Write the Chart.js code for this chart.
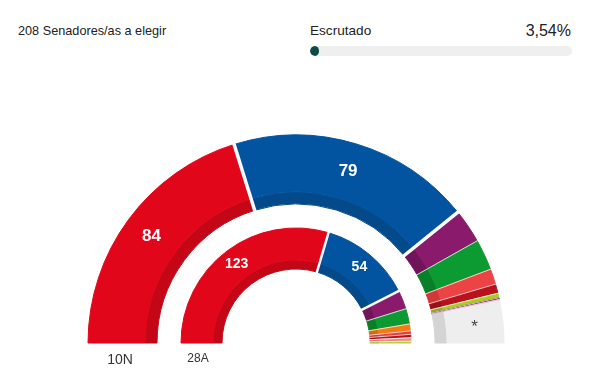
<!DOCTYPE html>
<html>
<head>
<meta charset="utf-8">
<script src="https://cdn.jsdelivr.net/npm/chart.js@4"></script>
<style>
html, body { margin: 0; padding: 0; background: #fff; overflow: hidden; width: 590px; height: 376px; }
body { font-family: "Liberation Sans", Arial, sans-serif; color: #222; line-height: 1; position: relative; }
#title { position: absolute; left: 18px; top: 25px; font-size: 12.7px; }
#escLabel { position: absolute; left: 310px; top: 24px; font-size: 13.6px; }
#escValue { position: absolute; right: 19px; top: 23px; font-size: 16px; }
#bar { position: absolute; left: 310px; top: 46px; width: 262px; height: 10px; border-radius: 5px; background: #efefef; overflow: hidden; }
#fill { height: 100%; background: #0c4b4a; border-radius: 5px; min-width: 8px; }
#chartBox { position: absolute; left: 0; top: 100px; width: 592px; height: 278px; }
.ringLabel { position: absolute; color: #333; transform: translateX(-50%); }
</style>
</head>
<body>
<div id="title"></div>
<div id="escLabel">Escrutado</div>
<div id="escValue"></div>
<div id="bar"><div id="fill"></div></div>
<div id="chartBox"><canvas id="senado"></canvas></div>
<div class="ringLabel" id="lab0" style="left:120px; top:352px; font-size:14px;"></div>
<div class="ringLabel" id="lab1" style="left:198px; top:352px; font-size:12px;"></div>
<script>
// escaños 10N (anillo exterior) y 28A (anillo interior)
const totalSeats = 208;
const escrutado = 3.54;
const ringNames = ['10N', '28A'];

const outerNames = ['rojo', 'azul', 'morado', 'verde', 'rojo claro', 'granate', 'lima', 'negro', 'rosa', 'sin asignar'];
const outerSeats = [84, 79, 11, 10, 5, 3, 1.5, 0.5, 0.5, 13.5];

const innerNames = ['rojo', 'azul', 'morado', 'verde', 'naranja', 'rojo claro', 'granate', 'rosa', 'lima'];
const innerSeats = [123, 54, 11, 9, 4, 2, 2, 2, 1];

const outerColors = ['#e2061a', '#0254a0', '#8a1a6b', '#0c9a32', '#ec4444', '#b8121c', '#a8cc22', '#3a0a30', '#f6c6de', '#eeeeee'];
const outerDark = ['#c30716', '#044a8a', '#72145a', '#0a7f29', '#d23838', '#9c0f17', '#8fae1c', '#2a0622', '#e8b0cc', '#d4d4d4'];
const innerColors = ['#e2061a', '#0254a0', '#8a1a6b', '#0c9a32', '#f07d14', '#e8403a', '#b8121c', '#f08a8a', '#b5d23a'];
const innerDark = ['#c30716', '#044a8a', '#72145a', '#0a7f29', '#d86a0e', '#cc3430', '#9c0f17', '#dc7878', '#9cb830'];

document.getElementById('title').textContent = totalSeats + ' Senadores/as a elegir';
document.getElementById('escValue').textContent = escrutado.toFixed(2).replace('.', ',') + '%';
document.getElementById('fill').style.width = escrutado + '%';
document.getElementById('lab0').textContent = ringNames[0];
document.getElementById('lab1').textContent = ringNames[1];

// lineas blancas entre sectores (sin lineas circulares entre banda y sombra)
const separators = {
    id: 'separators',
    afterDatasetsDraw(chart) {
        const ctx = chart.ctx;
        [[0, 1], [3, 4]].forEach(([main, dark]) => {
            const arcs = chart.getDatasetMeta(main).data;
            const darkArcs = chart.getDatasetMeta(dark).data;
            const values = chart.data.datasets[main].data;
            arcs.forEach((arc, j) => {
                if (j === 0) return;
                const wide = values[j] >= 50 || values[j - 1] >= 50;
                if (!wide && values[j - 1] < 1) return;
                if (j === arcs.length - 1 && main === 0) return;
                const a = arc.startAngle;
                const r0 = darkArcs[j].innerRadius - 1;
                const r1 = arc.outerRadius + 1;
                ctx.save();
                ctx.strokeStyle = wide ? '#ffffff' : 'rgba(255,255,255,0.75)';
                ctx.lineWidth = wide ? (main === 0 ? 3.5 : 2.5) : 1;
                ctx.beginPath();
                ctx.moveTo(arc.x + Math.cos(a) * r0, arc.y + Math.sin(a) * r0);
                ctx.lineTo(arc.x + Math.cos(a) * r1, arc.y + Math.sin(a) * r1);
                ctx.stroke();
                ctx.restore();
            });
        });
    }
};

// cifras dentro de los sectores grandes
const seatLabels = {
    id: 'seatLabels',
    afterDraw(chart) {
        const ctx = chart.ctx;
        [[0, 17], [3, 14]].forEach(([main, size]) => {
            const meta = chart.getDatasetMeta(main);
            const ds = chart.data.datasets[main];
            meta.data.forEach((arc, j) => {
                const v = ds.data[j];
                let text = null;
                let color = '#ffffff';
                if (v >= 40) text = String(v);
                if (ds.names[j] === 'sin asignar') { text = '*'; color = '#444444'; }
                if (!text) return;
                const p = arc.getCenterPoint();
                ctx.save();
                ctx.fillStyle = color;
                ctx.font = (text === '*' ? 'normal ' : 'bold ') + size + 'px "Liberation Sans", Arial, sans-serif';
                ctx.textAlign = 'center';
                ctx.textBaseline = 'middle';
                ctx.fillText(text, p.x, p.y + (text === '*' ? 3 : 0));
                ctx.restore();
            });
        });
    }
};

new Chart(document.getElementById('senado'), {
    type: 'doughnut',
    data: {
        labels: outerNames,
        datasets: [
            { data: outerSeats, names: outerNames, backgroundColor: outerColors, borderColor: outerColors, borderWidth: 1, weight: 57 },
            { data: outerSeats, names: outerNames, backgroundColor: outerDark, borderColor: outerDark, borderWidth: 1, weight: 12 },
            { data: [1], names: [], backgroundColor: ['rgba(0,0,0,0)'], borderWidth: 0, weight: 24 },
            { data: innerSeats, names: innerNames, backgroundColor: innerColors, borderColor: innerColors, borderWidth: 1, weight: 32 },
            { data: innerSeats, names: innerNames, backgroundColor: innerDark, borderColor: innerDark, borderWidth: 1, weight: 9 }
        ]
    },
    options: {
        responsive: true,
        maintainAspectRatio: false,
        animation: false,
        rotation: -90,
        circumference: 180,
        radius: 208,
        cutout: (74 / 208 * 100) + '%',
        layout: { padding: 0 },
        plugins: {
            legend: { display: false },
            tooltip: { enabled: false }
        }
    },
    plugins: [separators, seatLabels]
});
</script>
</body>
</html>
